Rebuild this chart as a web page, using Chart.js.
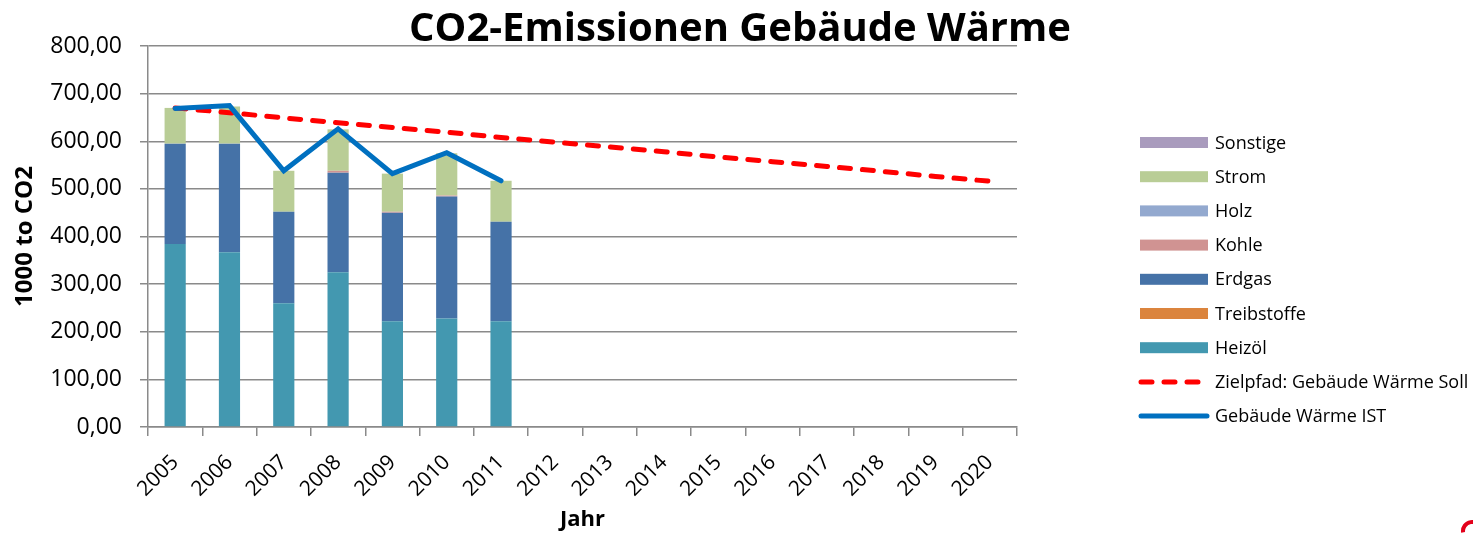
<!DOCTYPE html>
<html lang="de">
<head>
<meta charset="utf-8">
<title>CO2-Emissionen Gebäude Wärme</title>
<script src="https://cdn.jsdelivr.net/npm/chart.js@4.4.1/dist/chart.umd.min.js"></script>
<style>
  html, body { margin: 0; padding: 0; background: #fff; }
  #wrap { width: 1473px; height: 536px; }
</style>
</head>
<body>
<div id="wrap"><canvas id="co2-chart" width="1473" height="536"></canvas></div>
<script>
  // --- data ---
  const years = ['2005', '2006', '2007', '2008', '2009', '2010', '2011', '2012',
                 '2013', '2014', '2015', '2016', '2017', '2018', '2019', '2020'];

  // stacked bars, bottom to top
  const heizoel     = [384, 367, 260, 325, 222, 228, 222];
  const treibstoffe = [0, 0, 0, 0, 0, 0, 0];
  const erdgas      = [211, 228, 192, 209, 228, 256, 209];
  const kohle       = [0, 0, 0, 4, 2, 2, 0];
  const holz        = [0, 0, 0, 0, 0, 0, 0];
  const strom       = [75, 78, 86, 87, 80, 89, 86];
  const sonstige    = [0, 0, 0, 0, 0, 0, 0];

  // lines
  const sollPfad = [670, 660, 649, 639, 629, 619, 608, 598, 588, 578, 567, 557, 547, 537, 526, 516];
  const istWerte = [669, 675, 538, 626, 532, 576, 517];

  const yMin = 0;
  const yMax = 800;
  const yStep = 100;

  const TITLE = 'CO2-Emissionen Gebäude Wärme';
  const FONT = '"Open Sans", "DejaVu Sans", sans-serif';
  const AXIS_GREY = '#8a8a8a';

  function barSet(label, data, color) {
    return {
      type: 'bar',
      label: label,
      data: data,
      backgroundColor: color,
      borderWidth: 0,
      stack: 'mix',
      order: 2,
      barPercentage: 0.39,
      categoryPercentage: 1
    };
  }

  // title, legend and the cut-off logo drawn by hand on top of the chart
  const sideLegend = {
    id: 'sideLegend',
    afterDraw(chart) {
      const ctx = chart.ctx;
      ctx.save();

      ctx.fillStyle = '#000';
      ctx.font = 'bold 40px ' + FONT;
      ctx.textAlign = 'center';
      ctx.textBaseline = 'alphabetic';
      ctx.fillText(TITLE, 740, 41);

      const sets = chart.data.datasets;
      const items = sets.filter(d => d.type === 'bar').reverse()
        .concat(sets.filter(d => d.type === 'line'));

      const x0 = 1140, x1 = 1208, top = 142.5, step = 34.2;
      ctx.font = '18px ' + FONT;
      ctx.textAlign = 'left';
      ctx.textBaseline = 'middle';
      items.forEach((ds, i) => {
        const y = top + i * step;
        if (ds.type === 'bar') {
          ctx.fillStyle = ds.backgroundColor;
          ctx.fillRect(x0, y - 5.5, x1 - x0, 11);
        } else {
          ctx.strokeStyle = ds.borderColor;
          ctx.lineWidth = 5;
          ctx.lineCap = 'round';
          ctx.setLineDash(ds.borderDash || []);
          ctx.beginPath();
          ctx.moveTo(x0 + 1, y);
          ctx.lineTo(x1 - 1, y);
          ctx.stroke();
          ctx.setLineDash([]);
        }
        ctx.fillStyle = '#000';
        ctx.fillText(ds.label, 1215, y + 1);
      });

      // piece of a red logo in the corner
      ctx.strokeStyle = '#e3001b';
      ctx.lineWidth = 4;
      ctx.lineCap = 'butt';
      ctx.beginPath();
      ctx.arc(1472, 531, 9, Math.PI * 0.95, Math.PI * 1.6);
      ctx.stroke();

      ctx.restore();
    }
  };

  document.addEventListener('DOMContentLoaded', () => {
    const ctx = document.getElementById('co2-chart');

    new Chart(ctx, {
      data: {
        labels: years,
        datasets: [
          barSet('Heizöl', heizoel, '#4398B0'),
          barSet('Treibstoffe', treibstoffe, '#DB843D'),
          barSet('Erdgas', erdgas, '#4572A7'),
          barSet('Kohle', kohle, '#D09392'),
          barSet('Holz', holz, '#93A9CF'),
          barSet('Strom', strom, '#B9CD96'),
          barSet('Sonstige', sonstige, '#A99BBD'),
          {
            type: 'line',
            label: 'Zielpfad: Gebäude Wärme Soll',
            data: sollPfad,
            borderColor: '#FF0000',
            borderWidth: 5,
            borderDash: [11, 12],
            borderCapStyle: 'round',
            pointRadius: 0,
            tension: 0,
            stack: 'soll',
            order: 1
          },
          {
            type: 'line',
            label: 'Gebäude Wärme IST',
            data: istWerte,
            borderColor: '#0070C0',
            borderWidth: 5,
            borderCapStyle: 'round',
            borderJoinStyle: 'miter',
            pointRadius: 0,
            tension: 0,
            stack: 'ist',
            order: 0
          }
        ]
      },
      options: {
        responsive: false,
        animation: false,
        layout: { padding: { top: 46, right: 456, bottom: 0, left: 0 } },
        plugins: {
          legend: { display: false },
          title: { display: false },
          tooltip: { enabled: false }
        },
        scales: {
          x: {
            stacked: true,
            grid: { offset: true, drawOnChartArea: false, drawTicks: true, tickLength: 9, color: AXIS_GREY, lineWidth: 1.5 },
            border: { color: AXIS_GREY, width: 1.5 },
            ticks: {
              color: '#000',
              font: { family: FONT, size: 21 },
              minRotation: 45,
              maxRotation: 45,
              autoSkip: false,
              padding: 14
            },
            title: {
              display: true,
              text: 'Jahr',
              color: '#000',
              font: { family: FONT, size: 22, weight: 'bold' },
              padding: { top: 0, bottom: 3 }
            },
            afterFit: s => { s.height = 109; }
          },
          y: {
            stacked: true,
            min: yMin,
            max: yMax,
            grid: { color: AXIS_GREY, lineWidth: 1.5, tickLength: 8 },
            border: { color: AXIS_GREY, width: 1.5 },
            ticks: {
              stepSize: yStep,
              color: '#000',
              font: { family: FONT, size: 23 },
              padding: 18,
              callback: v => v.toFixed(2).replace('.', ',')
            },
            title: {
              display: true,
              text: '1000 to CO2',
              color: '#000',
              font: { family: FONT, size: 24, weight: 'bold' },
              padding: { top: 11, bottom: 0 }
            },
            afterFit: s => { s.width = 148; }
          }
        }
      },
      plugins: [sideLegend]
    });
  });
</script>
</body>
</html>
